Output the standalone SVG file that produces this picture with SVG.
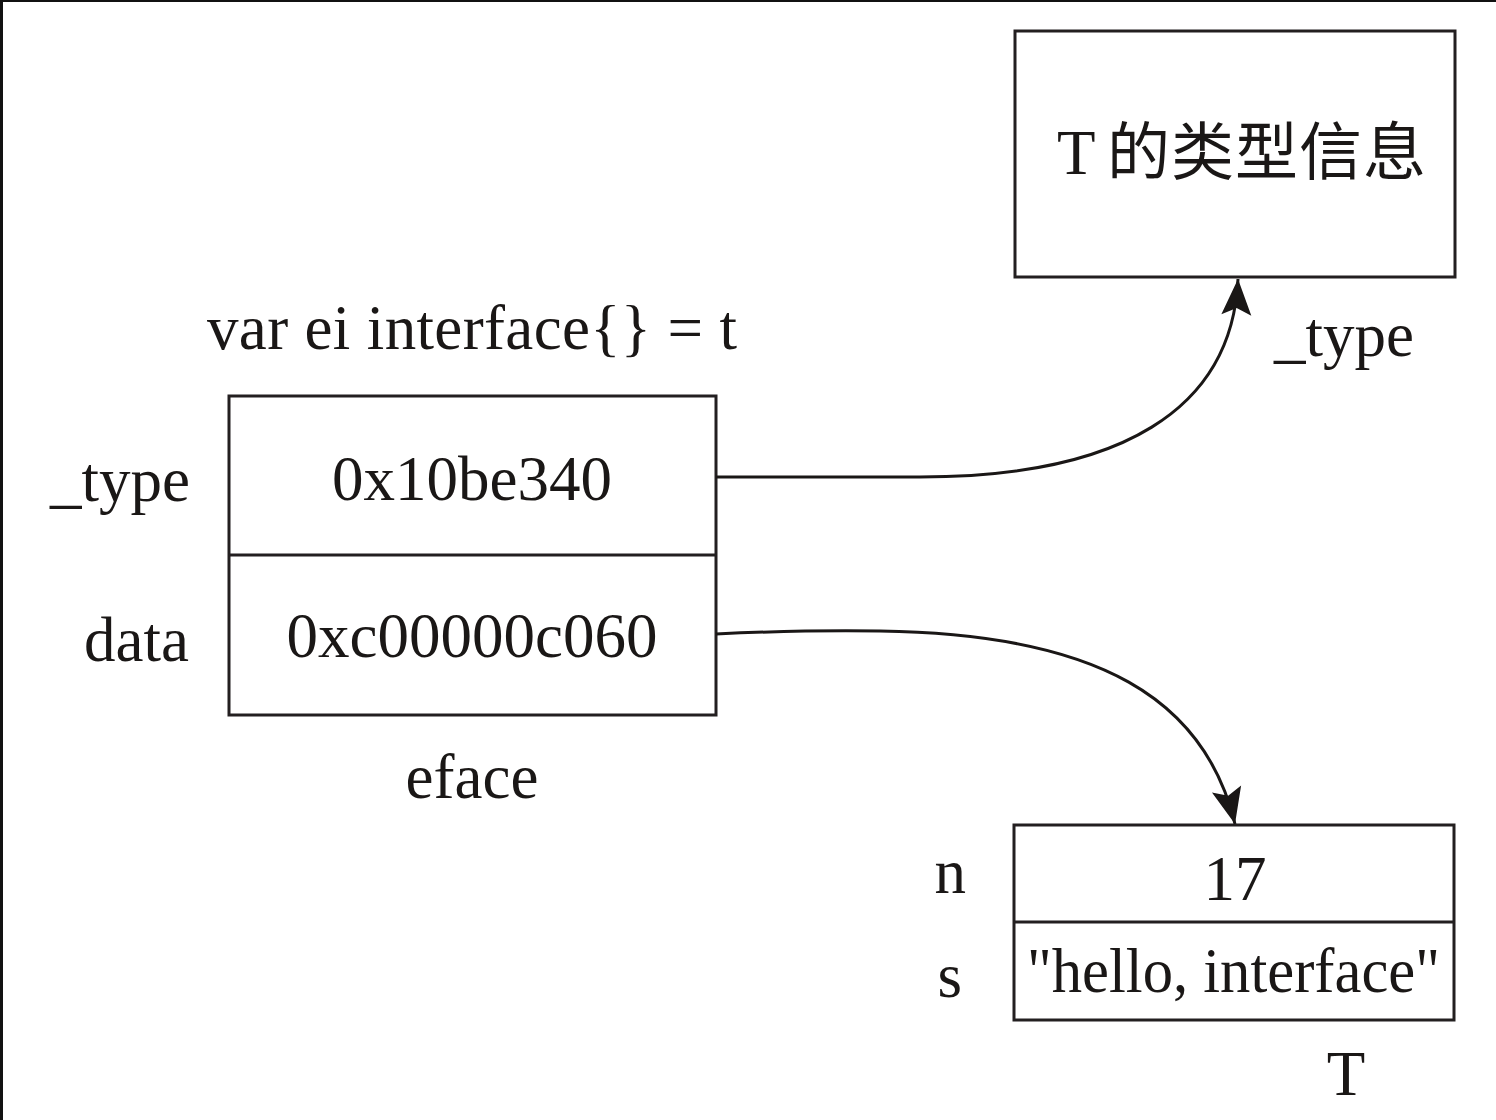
<svg xmlns="http://www.w3.org/2000/svg" width="1496" height="1120" viewBox="0 0 1496 1120">
<style>
text{font-family:"Liberation Serif","Times New Roman","Noto Sans CJK SC",serif;font-size:63px;fill:#1a1716}
.c{text-anchor:middle}
.r{text-anchor:end}
.box{fill:#fff;stroke:#231f20;stroke-width:3}
.ln{fill:none;stroke:#231f20;stroke-width:3}
.con{fill:none;stroke:#1a1716;stroke-width:3}
</style>
<defs>
<marker id="arr" markerUnits="userSpaceOnUse" markerWidth="44" markerHeight="44" viewBox="-38 -22 44 44" refX="0" refY="0" orient="auto">
<path d="M0,0 L-36,-15 L-29,0 L-36,15 Z" fill="#1a1716"/>
</marker>
</defs>
<rect x="0" y="0" width="1496" height="1120" fill="#fff"/>
<rect x="0" y="0" width="1496" height="2" fill="#111"/>
<rect x="0" y="0" width="3" height="1120" fill="#111"/>

<g id="eface">
<rect class="box" x="229" y="396" width="487" height="319"/>
<line class="ln" x1="229" y1="555" x2="716" y2="555"/>
<text class="c" x="472" y="500">0x10be340</text>
<text class="c" x="472" y="657">0xc00000c060</text>
<text x="207" y="349" textLength="530" lengthAdjust="spacing">var ei interface{} = t</text>
<text class="r" x="190" y="501">_type</text>
<text class="r" x="189" y="661">data</text>
<text class="c" x="472" y="798">eface</text>
</g>

<g id="typeinfo">
<rect class="box" x="1015" y="31" width="440" height="246"/>
<text x="1057" y="174">T</text>
<text x="1107" y="174" font-family="'Noto Sans CJK SC',sans-serif" font-size="62" letter-spacing="1">的类型信息</text>
</g>

<g id="T">
<rect class="box" x="1014" y="825" width="440" height="195"/>
<line class="ln" x1="1014" y1="922" x2="1454" y2="922"/>
<text class="c" x="1235" y="900">17</text>
<text x="1027" y="992" font-size="60" textLength="413" lengthAdjust="spacingAndGlyphs">"hello, interface"</text>
<text class="r" x="966" y="893">n</text>
<text class="r" x="962" y="997">s</text>
<text class="c" x="1346" y="1095">T</text>
</g>

<g id="connectors">
<path class="con" d="M716,477 H920 C1120,477 1232,410 1238,279" marker-end="url(#arr)"/>
<path class="con" d="M716,634 C780,631 820,630 880,631 C1100,634 1205,700 1235,824" marker-end="url(#arr)"/>
<text x="1274" y="356">_type</text>
</g>
</svg>
